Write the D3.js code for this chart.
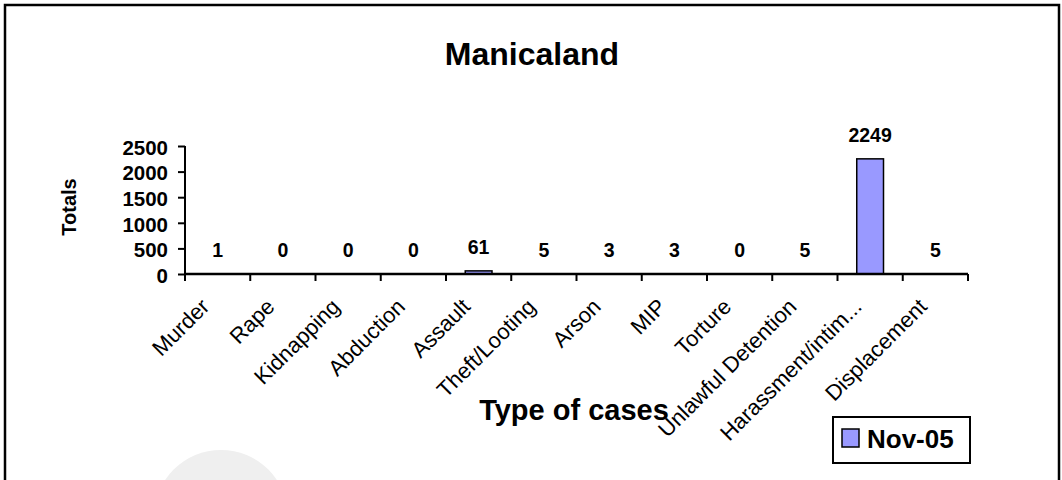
<!DOCTYPE html>
<html>
<head>
<meta charset="utf-8">
<script src="https://cdn.jsdelivr.net/npm/d3@7/dist/d3.min.js"></script>
<style>
  html, body { margin: 0; padding: 0; background: #fff; }
  svg { display: block; font-family: "Liberation Sans", Arial, Helvetica, sans-serif; }
</style>
</head>
<body>
<svg id="chart" width="1062" height="480"></svg>
<script>
const categories = ["Murder", "Rape", "Kidnapping", "Abduction", "Assault", "Theft/Looting",
  "Arson", "MIP", "Torture", "Unlawful Detention", "Harassment/intim...", "Displacement"];
const values = [1, 0, 0, 0, 61, 5, 3, 3, 0, 5, 2249, 5];
const yTicks = [0, 500, 1000, 1500, 2000, 2500];
const seriesName = "Nov-05";
const chartTitle = "Manicaland";
const xTitle = "Type of cases";
const yTitle = "Totals";

const svg = d3.select("#chart");

// watermark circle
svg.append("circle").attr("cx", 221).attr("cy", 517).attr("r", 67).attr("fill", "#efefef");

// outer border
svg.append("rect").attr("x", 5).attr("y", 5).attr("width", 1054).attr("height", 490)
  .attr("fill", "none").attr("stroke", "#000").attr("stroke-width", 2.5);

const x = d3.scaleBand().domain(categories).range([185, 968]).padding(0);
const y = d3.scaleLinear().domain([0, 2500]).range([274, 146]);

// title
svg.append("text").attr("x", 532).attr("y", 65).attr("text-anchor", "middle")
  .attr("font-size", 32).attr("font-weight", "bold").text(chartTitle);

// bars
const bw = x.bandwidth() * 0.41;
svg.append("g").selectAll("rect").data(values).join("rect")
  .attr("x", (d, i) => x(categories[i]) + x.bandwidth() / 2 - bw / 2)
  .attr("y", d => y(d))
  .attr("width", bw)
  .attr("height", d => y(0) - y(d))
  .attr("fill", "#9999ff").attr("stroke", "#000").attr("stroke-width", 1.5);

// value labels
svg.append("g").selectAll("text").data(values).join("text")
  .attr("x", (d, i) => x(categories[i]) + x.bandwidth() / 2)
  .attr("y", d => y(d) - 17)
  .attr("text-anchor", "middle").attr("font-size", 19.5).attr("font-weight", "bold")
  .text(d => d);

// y axis
const yAxis = svg.append("g").attr("transform", "translate(185,0)")
  .call(d3.axisLeft(y).tickValues(yTicks).tickSize(7).tickPadding(10).tickFormat(d3.format("d")));
yAxis.select(".domain").attr("stroke-width", 2).attr("d", "M0,146V274");
yAxis.selectAll(".tick line").attr("stroke-width", 2);
yAxis.selectAll(".tick text").attr("font-size", 20.5).attr("font-weight", "bold")
  .attr("font-family", "Liberation Sans, Arial, sans-serif").attr("fill", "#000").attr("dy", "0.4em");

// x axis
const xAxis = svg.append("g").attr("transform", "translate(0,274)")
  .call(d3.axisBottom(x).tickSize(0).tickFormat(""));
xAxis.select(".domain").attr("stroke-width", 2.5).attr("d", "M185,0H968");
xAxis.selectAll(".tick").remove();
const tickPos = d3.range(categories.length + 1).map(i => 185 + i * x.bandwidth());
xAxis.selectAll("line.sep").data(tickPos).join("line").attr("class", "sep")
  .attr("x1", d => d).attr("x2", d => d).attr("y1", 0).attr("y2", 7)
  .attr("stroke", "#000").attr("stroke-width", 2);

// x tick labels
svg.append("g").selectAll("text").data(categories).join("text")
  .attr("transform", d => `translate(${x(d) + x.bandwidth() / 2 - 7},308) rotate(-45)`)
  .attr("text-anchor", "end").attr("font-size", 22).text(d => d);

// axis titles
svg.append("text").attr("x", 574).attr("y", 420).attr("text-anchor", "middle")
  .attr("font-size", 29).attr("font-weight", "bold").text(xTitle);
svg.append("text").attr("transform", "translate(76,207) rotate(-90)").attr("text-anchor", "middle")
  .attr("font-size", 20).attr("font-weight", "bold").text(yTitle);

// legend
const lg = svg.append("g");
lg.append("rect").attr("x", 833).attr("y", 417).attr("width", 137).attr("height", 46)
  .attr("fill", "#fff").attr("stroke", "#000").attr("stroke-width", 2);
lg.append("rect").attr("x", 842).attr("y", 429).attr("width", 17).attr("height", 18)
  .attr("fill", "#9999ff").attr("stroke", "#000").attr("stroke-width", 1.5);
lg.append("text").attr("x", 867).attr("y", 448).attr("font-size", 26).attr("font-weight", "bold")
  .text(seriesName);
</script>
</body>
</html>
